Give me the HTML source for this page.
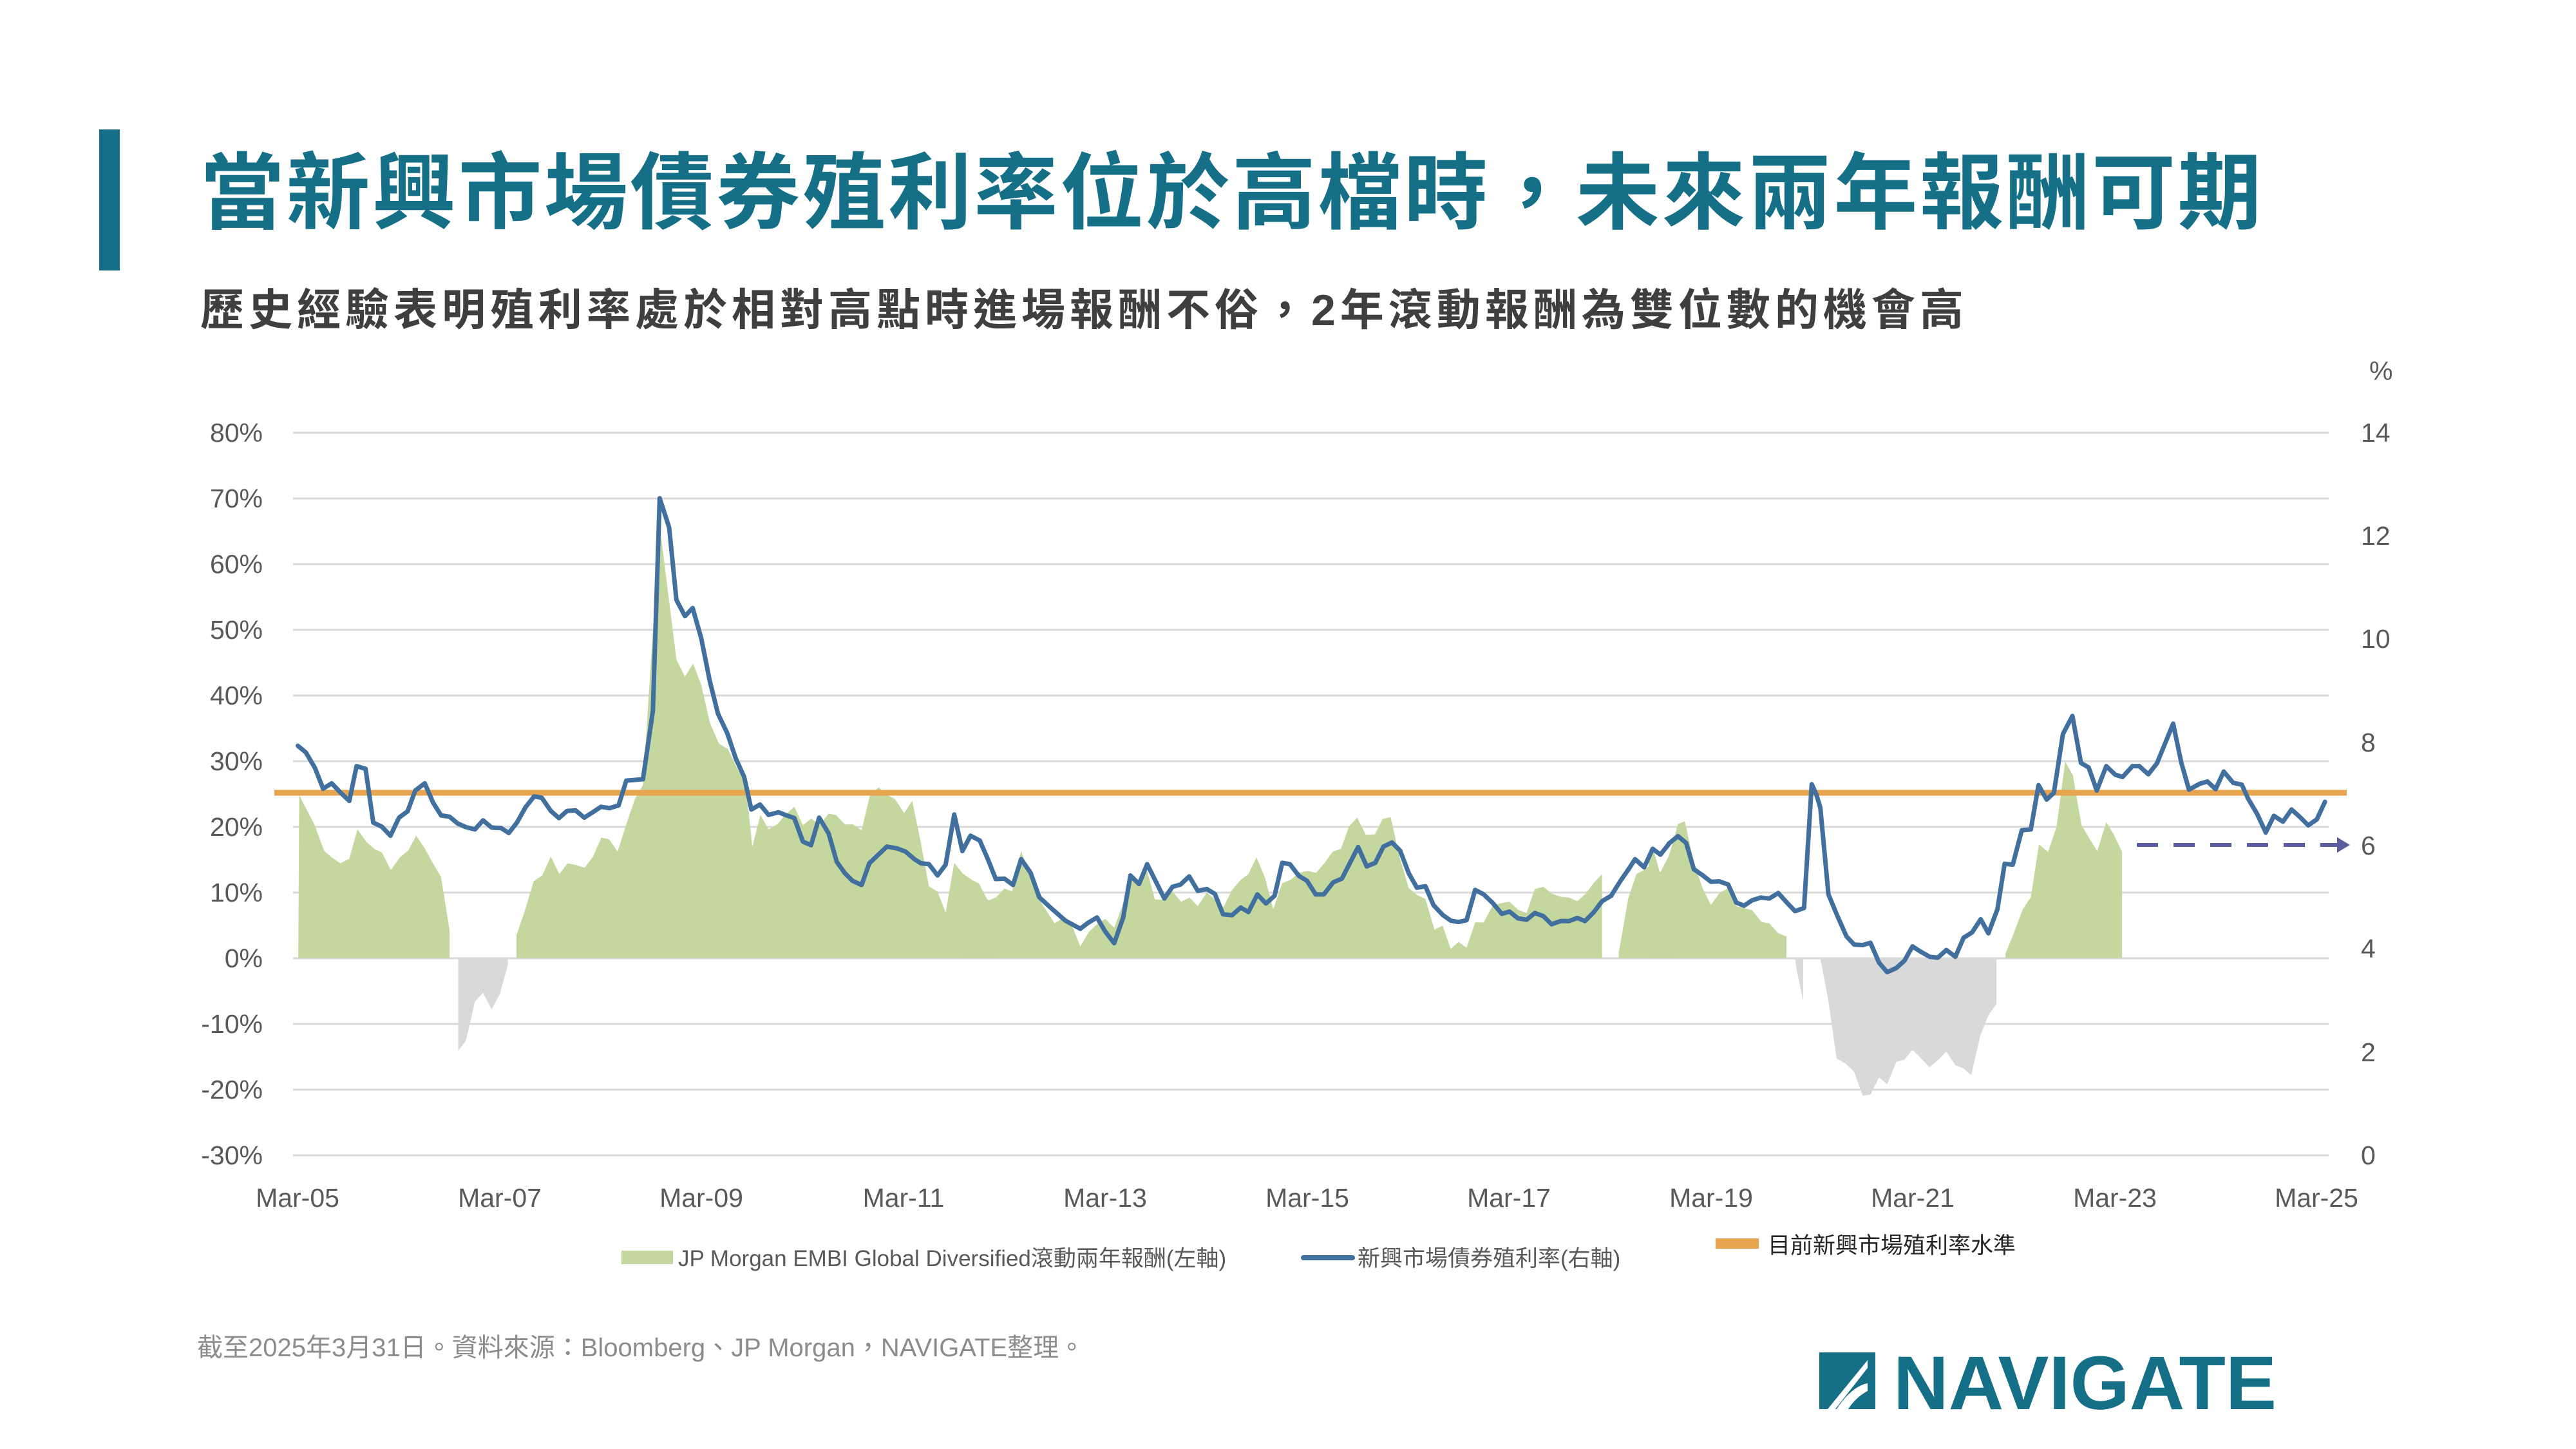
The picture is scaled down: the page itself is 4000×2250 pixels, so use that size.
<!DOCTYPE html>
<html><head><meta charset="utf-8">
<style>
html,body{margin:0;padding:0;background:#fff;}
body{width:4000px;height:2250px;position:relative;overflow:hidden;font-family:"Liberation Sans","Noto Sans CJK TC",sans-serif;}
.t{position:absolute;white-space:nowrap;}
</style></head><body>
<div class="t" style="left:154px;top:201px;width:32px;height:219px;background:#156f87;"></div>
<div class="t" style="left:311px;top:220px;font-size:130px;line-height:160px;font-weight:bold;color:#156f87;letter-spacing:3.5px;font-family:'Liberation Sans','Noto Sans CJK TC',sans-serif;">當新興市場債券殖利率位於高檔時，未來兩年報酬可期</div>
<div class="t" style="left:311px;top:437px;font-size:68px;line-height:90px;font-weight:bold;color:#3f3f3f;letter-spacing:7px;font-family:'Liberation Sans','Noto Sans CJK TC',sans-serif;">歷史經驗表明殖利率處於相對高點時進場報酬不俗，2年滾動報酬為雙位數的機會高</div>

<svg width="4000" height="2250" style="position:absolute;left:0;top:0" xmlns="http://www.w3.org/2000/svg">
<g stroke="#d9d9d9" stroke-width="3">
<line x1="455" x2="3616" y1="672" y2="672"/>
<line x1="455" x2="3616" y1="774" y2="774"/><line x1="455" x2="3616" y1="876" y2="876"/>
<line x1="455" x2="3616" y1="978" y2="978"/><line x1="455" x2="3616" y1="1080" y2="1080"/>
<line x1="455" x2="3616" y1="1182" y2="1182"/><line x1="455" x2="3616" y1="1284" y2="1284"/>
<line x1="455" x2="3616" y1="1386" y2="1386"/><line x1="455" x2="3616" y1="1488" y2="1488"/>
<line x1="455" x2="3616" y1="1590" y2="1590"/><line x1="455" x2="3616" y1="1692" y2="1692"/>
<line x1="455" x2="3616" y1="1794" y2="1794"/>
</g>
<g font-size="41" fill="#595959" text-anchor="end" font-family="Liberation Sans, sans-serif">
<text x="408" y="686">80%</text><text x="408" y="788">70%</text><text x="408" y="890">60%</text><text x="408" y="992">50%</text>
<text x="408" y="1094">40%</text><text x="408" y="1196">30%</text><text x="408" y="1298">20%</text>
<text x="408" y="1400">10%</text><text x="408" y="1502">0%</text><text x="408" y="1604">-10%</text>
<text x="408" y="1706">-20%</text><text x="408" y="1808">-30%</text>
</g>
<g font-size="41" fill="#595959" font-family="Liberation Sans, sans-serif">
<text x="3666" y="686">14</text><text x="3666" y="846">12</text><text x="3666" y="1006">10</text>
<text x="3666" y="1167">8</text><text x="3666" y="1327">6</text><text x="3666" y="1487">4</text>
<text x="3666" y="1648">2</text><text x="3666" y="1808">0</text>
<text x="3679" y="590">%</text>
</g>
<g font-size="41" fill="#595959" text-anchor="middle" font-family="Liberation Sans, sans-serif">
<text x="462" y="1874">Mar-05</text><text x="776" y="1874">Mar-07</text><text x="1089" y="1874">Mar-09</text>
<text x="1403" y="1874">Mar-11</text><text x="1716" y="1874">Mar-13</text><text x="2030" y="1874">Mar-15</text>
<text x="2343" y="1874">Mar-17</text><text x="2657" y="1874">Mar-19</text><text x="2970" y="1874">Mar-21</text>
<text x="3284" y="1874">Mar-23</text><text x="3597" y="1874">Mar-25</text>
</g>

<g transform="translate(440,700) scale(0.70151)">
<polygon fill="#c4d79f" points="33,1123 35,762 70,830 90,885 107,900 126,913 146,903 164,838 184,866 203,882 218,889 238,928 258,900 277,884 294,852 313,880 331,913 349,943 368,1062 368,1123"/>
<polygon fill="#d9d9d9" points="387,1123 387,1328 404,1306 424,1219 442,1200 461,1236 479,1203 497,1138 497,1123"/>
<polygon fill="#c4d79f" points="516,1123 516,1072 534,1020 554,953 573,940 592,898 611,937 629,913 648,917 667,923 685,899 704,856 721,860 740,887 759,827 778,771 796,740 833,165 870,462 889,500 907,471 925,518 944,602 964,648 984,660 1002,698 1020,731 1029,790 1038,876 1056,806 1074,838 1094,826 1111,806 1131,788 1150,829 1168,814 1187,828 1207,803 1223,806 1243,827 1261,827 1280,840 1299,760 1318,745 1337,762 1354,771 1374,802 1392,775 1411,867 1429,964 1448,976 1466,1022 1485,912 1503,935 1524,950 1540,958 1558,994 1570,996 1570,1123"/>
</g>
<g transform="translate(1500,700) scale(0.70151)">
<polygon fill="#c4d79f" points="0,1123 0,943 12,953 30,962 49,996 67,988 85,969 102,975 122,886 142,940 160,990 196,1046 215,1034 235,1052 253,1097 272,1065 290,1048 308,1036 328,1056 345,1010 364,940 383,960 401,930 418,993 437,994 457,975 476,998 495,989 513,1008 533,978 552,994 570,1010 589,972 608,950 625,937 643,900 662,945 680,1015 700,957 718,950 737,934 756,930 775,934 794,912 812,887 830,881 848,831 866,812 885,850 905,849 922,815 940,811 960,900 980,968 998,983 1017,992 1037,1060 1055,1051 1073,1103 1090,1087 1108,1100 1127,1044 1146,1044 1166,1006 1186,1001 1203,998 1222,1016 1241,1023 1259,970 1278,965 1296,980 1316,987 1335,989 1353,997 1372,980 1390,956 1408,937 1408,1123"/>
<polygon fill="#c4d79f" points="1445,1123 1445,1110 1466,990 1484,937 1505,925 1520,912 1537,933 1555,898 1570,860 1570,1123"/>
</g>
<g transform="translate(2560,700) scale(0.70151)">
<polygon fill="#c4d79f" points="0,1123 0,912 10,880 25,935 45,897 65,826 80,820 100,910 120,970 138,1005 156,980 176,968 194,1008 229,1017 250,1043 267,1046 287,1068 305,1075 305,1123"/>
<polygon fill="#d9d9d9" points="324,1123 327,1145 342,1218 342,1123"/>
<polygon fill="#d9d9d9" points="380,1123 398,1218 416,1345 437,1357 455,1375 474,1428 491,1425 510,1387 528,1402 548,1353 566,1348 584,1326 603,1345 622,1365 641,1348 659,1330 679,1360 697,1367 714,1382 734,1295 752,1250 770,1224 770,1123"/>
<polygon fill="#c4d79f" points="790,1123 790,1113 810,1063 828,1015 846,988 864,871 884,888 903,832 922,688 939,718 958,828 975,857 993,886 1013,822 1030,850 1048,888 1048,1123"/>
</g>

<line x1="426" x2="3644" y1="1231" y2="1231" stroke="#e8a550" stroke-width="9"/>

<g fill="none" stroke="#41709f" stroke-width="10" stroke-linejoin="round" stroke-linecap="round">
<g transform="translate(440,700) scale(0.70151)">
<polyline points="32,653 50,668 70,702 88,748 107,736 127,757 146,775 162,698 182,704 199,823 218,832 237,852 256,812 275,798 292,752 313,736 331,778 349,807 368,810 386,825 404,833 424,838 442,818 461,834 482,835 499,846 517,823 536,789 555,765 572,768 592,797 610,813 628,797 647,796 666,812 685,800 703,788 722,791 742,785 759,730 796,727 818,575 833,105 854,170 870,330 889,366 906,348 925,415 944,510 962,582 983,626 1001,680 1020,722 1036,794 1055,783 1074,806 1096,800 1111,806 1131,813 1150,865 1168,873 1186,812 1207,847 1225,910 1243,935 1260,952 1280,961 1297,913 1336,876 1358,880 1377,887 1397,904 1411,913 1429,915 1448,940 1466,916 1485,805 1503,886 1521,852 1542,863"/>
</g>
<g transform="translate(1500,700) scale(0.70151)">
<polyline points="31,864 48,903 66,948 85,947 104,961 122,904 143,934 162,988 186,1010 220,1040 253,1058 270,1045 290,1033 308,1064 328,1090 348,1033 364,940 383,959 401,915 420,953 439,991 457,965 475,960 494,942 513,974 533,970 551,981 569,1026 589,1028 608,1011 625,1021 645,982 664,1002 683,985 700,912 717,915 737,941 755,952 774,982 792,982 813,955 832,947 850,912 868,877 887,920 906,912 924,876 943,867 961,885 980,935 998,967 1017,964 1035,1006 1056,1028 1073,1040 1090,1043 1108,1039 1127,972 1146,982 1166,1001 1186,1025 1203,1020 1222,1035 1241,1038 1259,1023 1278,1030 1296,1048 1316,1041 1335,1041 1353,1034 1370,1041 1389,1022 1408,997 1428,985 1448,953 1466,927 1481,904 1501,922 1520,881 1537,894 1556,870"/>
</g>
<g transform="translate(2560,700) scale(0.70151)">
<polyline points="44,870 65,853 83,868 100,926 120,940 138,954 156,953 176,960 194,1000 211,1007 229,995 248,989 267,991 287,979 305,999 324,1019 344,1012 361,738 371,760 380,790 398,982 418,1030 438,1075 455,1093 474,1094 491,1089 510,1133 528,1154 548,1145 566,1129 584,1097 601,1108 622,1120 640,1122 659,1105 679,1120 697,1078 716,1066 735,1037 752,1068 772,1015 788,914 806,916 826,840 846,838 863,740 881,772 897,757 917,627 938,587 957,691 974,701 992,752 1013,698 1033,717 1049,722 1071,698 1086,698 1106,716 1125,692 1143,648 1161,604 1179,690 1196,750 1220,737 1237,732 1255,749 1273,710 1294,735 1313,739 1327,770 1347,804 1366,845 1384,808 1404,821 1423,794 1442,811 1460,829 1479,816 1497,777"/>
</g>
</g>

<line x1="3318" x2="3630" y1="1312" y2="1312" stroke="#5a5ca0" stroke-width="6" stroke-dasharray="33,24"/>
<polygon points="3629,1300 3649,1312 3629,1324" fill="#5a5ca0"/>

<rect x="965" y="1942" width="80" height="21" fill="#c4d79f"/>
<text x="1053" y="1966" font-size="35" fill="#595959" font-family="Liberation Sans, Noto Sans CJK TC, sans-serif">JP Morgan EMBI Global Diversified滾動兩年報酬(左軸)</text>
<line x1="2024" x2="2100" y1="1953" y2="1953" stroke="#41709f" stroke-width="8" stroke-linecap="round"/>
<text x="2108" y="1966" font-size="35" fill="#595959" font-family="Liberation Sans, Noto Sans CJK TC, sans-serif">新興市場債券殖利率(右軸)</text>
<rect x="2664" y="1923" width="67" height="16" fill="#e8a550"/>
<text x="2745" y="1946" font-size="35" fill="#262626" font-family="Liberation Sans, Noto Sans CJK TC, sans-serif">目前新興市場殖利率水準</text>

<text x="306" y="2106" font-size="40" fill="#8c8c8c" font-family="Liberation Sans, Noto Sans CJK TC, sans-serif">截至2025年3月31日。資料來源：Bloomberg、JP Morgan，NAVIGATE整理。</text>

<rect x="2825" y="2100" width="87" height="88" fill="#156f87"/>
<path d="M2838,2188 L2900,2112 L2900,2124 L2850,2188 Z" fill="#fff"/>
<path d="M2852,2188 C2870,2160 2888,2150 2900,2148 L2900,2160 C2890,2165 2878,2175 2870,2188 Z" fill="#fff"/>
<text x="2940" y="2188" font-size="118" font-weight="bold" fill="#156f87" textLength="595" lengthAdjust="spacingAndGlyphs" font-family="Liberation Sans, sans-serif">NAVIGATE</text>
</svg>
</body></html>
